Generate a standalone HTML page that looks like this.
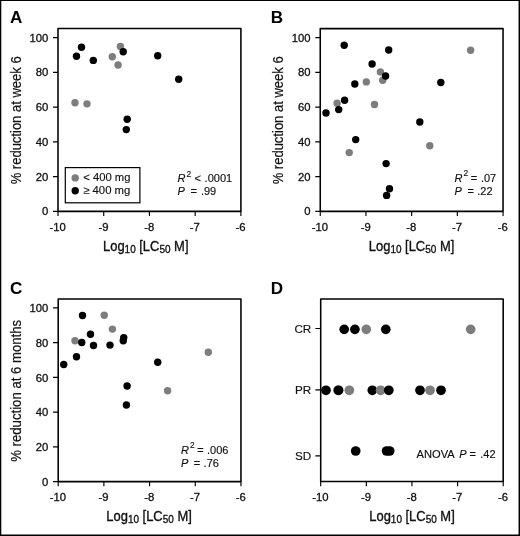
<!DOCTYPE html>
<html><head><meta charset="utf-8"><title>Figure</title>
<style>
html,body{margin:0;padding:0;background:#fff;}
body{width:520px;height:536px;overflow:hidden;position:relative;font-family:"Liberation Sans",sans-serif;}
svg{position:absolute;left:0;top:0;display:block;will-change:transform;}
text{font-family:"Liberation Sans",sans-serif;fill:#111;}
.t{font-size:11.3px;stroke:#111;stroke-width:0.3px;}
.s{font-size:11px;stroke:#111;stroke-width:0.15px;}
.c{font-size:11.7px;stroke:#111;stroke-width:0.15px;}
.i{font-style:italic;}
.sup{font-size:8.4px;stroke-width:0.15px;}
.sub{font-size:11px;}
.ttl{font-size:14.3px;stroke:#111;stroke-width:0.35px;}
.yt{stroke-width:0.2px;}
.L{font-size:17.1px;font-weight:bold;fill:#000;}
</style></head>
<body>
<svg width="520" height="536" viewBox="0 0 520 536">
<rect x="0" y="0" width="520" height="536" fill="#fff"/>
<rect x="58" y="28.55" width="182.9" height="182.8" fill="none" stroke="#000" stroke-width="1.55" stroke-linejoin="round"/>
<path d="M58 211.35V216.05M103.72 211.35V216.05M149.45 211.35V216.05M195.18 211.35V216.05M240.9 211.35V216.05" stroke="#000" stroke-width="1.15" fill="none"/>
<text x="57.7" y="230.65" text-anchor="middle" class="t">-10</text>
<text x="103.42" y="230.65" text-anchor="middle" class="t">-9</text>
<text x="149.15" y="230.65" text-anchor="middle" class="t">-8</text>
<text x="194.88" y="230.65" text-anchor="middle" class="t">-7</text>
<text x="240.6" y="230.65" text-anchor="middle" class="t">-6</text>
<text x="103" y="250.75" class="ttl" textLength="85.5" lengthAdjust="spacingAndGlyphs">Log<tspan class="sub" dy="2.3">10</tspan><tspan dy="-2.3"> [LC</tspan><tspan class="sub" dy="2.3">50</tspan><tspan dy="-2.3"> M]</tspan></text>
<text x="48.3" y="215.35" text-anchor="end" class="t">0</text>
<text x="48.3" y="180.59" text-anchor="end" class="t">20</text>
<text x="48.3" y="145.83" text-anchor="end" class="t">40</text>
<text x="48.3" y="111.07" text-anchor="end" class="t">60</text>
<text x="48.3" y="76.31" text-anchor="end" class="t">80</text>
<text x="48.3" y="41.55" text-anchor="end" class="t">100</text>
<path d="M58 211.35H53M58 176.59H53M58 141.83H53M58 107.07H53M58 72.31H53M58 37.55H53" stroke="#000" stroke-width="1.15" fill="none"/>
<text transform="translate(20.8 120.35) rotate(-90)" text-anchor="middle" class="ttl yt" textLength="128" lengthAdjust="spacingAndGlyphs">% reduction at week 6</text>
<circle cx="120.4" cy="46.5" r="3.7" fill="#7d7d7d"/>
<circle cx="112.3" cy="56.7" r="3.7" fill="#7d7d7d"/>
<circle cx="118.1" cy="65" r="3.7" fill="#7d7d7d"/>
<circle cx="75" cy="102.7" r="3.7" fill="#7d7d7d"/>
<circle cx="87" cy="103.85" r="3.7" fill="#7d7d7d"/>
<circle cx="81.5" cy="47.3" r="3.7" fill="#000"/>
<circle cx="76.5" cy="56.3" r="3.7" fill="#000"/>
<circle cx="93.3" cy="60.4" r="3.7" fill="#000"/>
<circle cx="123.2" cy="51.7" r="3.7" fill="#000"/>
<circle cx="157.7" cy="55.8" r="3.7" fill="#000"/>
<circle cx="178.7" cy="79.2" r="3.7" fill="#000"/>
<circle cx="127.2" cy="119.3" r="3.7" fill="#000"/>
<circle cx="126.3" cy="129.6" r="3.7" fill="#000"/>
<rect x="65.3" y="167.6" width="74.6" height="35.2" fill="#fff" stroke="#000" stroke-width="1.2"/>
<circle cx="75.2" cy="177.9" r="3.7" fill="#7d7d7d"/><circle cx="75.2" cy="190.8" r="3.7" fill="#000"/>
<text x="83.2" y="181.4" class="s" textLength="47.2" lengthAdjust="spacingAndGlyphs">&lt; 400 mg</text>
<text x="83.2" y="194.3" class="s" textLength="47.2" lengthAdjust="spacingAndGlyphs">&#8805; 400 mg</text>
<text class="s" y="181.9"><tspan x="177.6" class="i">R</tspan><tspan x="186.5" y="176.6" class="sup">2</tspan><tspan x="194.5" y="181.9">&lt;</tspan><tspan x="204.6" y="181.9">.0001</tspan></text>
<text class="s" y="195.4"><tspan x="177.6" class="i">P</tspan><tspan x="190.5">=</tspan><tspan x="200.9">.99</tspan></text>
<rect x="320.25" y="28.6" width="182.8" height="182.75" fill="none" stroke="#000" stroke-width="1.55" stroke-linejoin="round"/>
<path d="M320.25 211.35V216.05M365.95 211.35V216.05M411.65 211.35V216.05M457.35 211.35V216.05M503.05 211.35V216.05" stroke="#000" stroke-width="1.15" fill="none"/>
<text x="319.95" y="230.65" text-anchor="middle" class="t">-10</text>
<text x="365.65" y="230.65" text-anchor="middle" class="t">-9</text>
<text x="411.35" y="230.65" text-anchor="middle" class="t">-8</text>
<text x="457.05" y="230.65" text-anchor="middle" class="t">-7</text>
<text x="502.75" y="230.65" text-anchor="middle" class="t">-6</text>
<text x="368.8" y="250.75" class="ttl" textLength="85.5" lengthAdjust="spacingAndGlyphs">Log<tspan class="sub" dy="2.3">10</tspan><tspan dy="-2.3"> [LC</tspan><tspan class="sub" dy="2.3">50</tspan><tspan dy="-2.3"> M]</tspan></text>
<text x="310.55" y="215.35" text-anchor="end" class="t">0</text>
<text x="310.55" y="180.59" text-anchor="end" class="t">20</text>
<text x="310.55" y="145.83" text-anchor="end" class="t">40</text>
<text x="310.55" y="111.07" text-anchor="end" class="t">60</text>
<text x="310.55" y="76.31" text-anchor="end" class="t">80</text>
<text x="310.55" y="41.55" text-anchor="end" class="t">100</text>
<path d="M320.25 211.35H315.25M320.25 176.59H315.25M320.25 141.83H315.25M320.25 107.07H315.25M320.25 72.31H315.25M320.25 37.55H315.25" stroke="#000" stroke-width="1.15" fill="none"/>
<text transform="translate(283.05 120.35) rotate(-90)" text-anchor="middle" class="ttl yt" textLength="128" lengthAdjust="spacingAndGlyphs">% reduction at week 6</text>
<circle cx="337.1" cy="103.3" r="3.7" fill="#7d7d7d"/>
<circle cx="380.4" cy="71.9" r="3.7" fill="#7d7d7d"/>
<circle cx="382.7" cy="80.2" r="3.7" fill="#7d7d7d"/>
<circle cx="366.3" cy="81.9" r="3.7" fill="#7d7d7d"/>
<circle cx="374.5" cy="104.45" r="3.7" fill="#7d7d7d"/>
<circle cx="349.2" cy="152.6" r="3.7" fill="#7d7d7d"/>
<circle cx="470.6" cy="50.2" r="3.7" fill="#7d7d7d"/>
<circle cx="429.8" cy="145.7" r="3.7" fill="#7d7d7d"/>
<circle cx="344.2" cy="45.2" r="3.7" fill="#000"/>
<circle cx="388.7" cy="50" r="3.7" fill="#000"/>
<circle cx="372.1" cy="64" r="3.7" fill="#000"/>
<circle cx="385.6" cy="76" r="3.7" fill="#000"/>
<circle cx="354.8" cy="84" r="3.7" fill="#000"/>
<circle cx="344.6" cy="100.2" r="3.7" fill="#000"/>
<circle cx="338.7" cy="109.6" r="3.7" fill="#000"/>
<circle cx="326" cy="113" r="3.7" fill="#000"/>
<circle cx="355.7" cy="139.6" r="3.7" fill="#000"/>
<circle cx="386.1" cy="163.6" r="3.7" fill="#000"/>
<circle cx="389.5" cy="188.7" r="3.7" fill="#000"/>
<circle cx="386.6" cy="195.4" r="3.7" fill="#000"/>
<circle cx="440.8" cy="82.5" r="3.7" fill="#000"/>
<circle cx="419.8" cy="122" r="3.7" fill="#000"/>
<text class="s" y="181.6"><tspan x="454.5" class="i">R</tspan><tspan x="463.5" y="176.3" class="sup">2</tspan><tspan x="470.8" y="181.6">=</tspan><tspan x="480.9" y="181.6">.07</tspan></text>
<text class="s" y="195"><tspan x="454.5" class="i">P</tspan><tspan x="467.5">=</tspan><tspan x="477.3">.22</tspan></text>
<rect x="58.2" y="299" width="182.75" height="182.6" fill="none" stroke="#000" stroke-width="1.55" stroke-linejoin="round"/>
<path d="M58.2 481.6V486.3M103.89 481.6V486.3M149.57 481.6V486.3M195.26 481.6V486.3M240.95 481.6V486.3" stroke="#000" stroke-width="1.15" fill="none"/>
<text x="57.9" y="500.9" text-anchor="middle" class="t">-10</text>
<text x="103.59" y="500.9" text-anchor="middle" class="t">-9</text>
<text x="149.27" y="500.9" text-anchor="middle" class="t">-8</text>
<text x="194.96" y="500.9" text-anchor="middle" class="t">-7</text>
<text x="240.65" y="500.9" text-anchor="middle" class="t">-6</text>
<text x="106.3" y="521" class="ttl" textLength="85.5" lengthAdjust="spacingAndGlyphs">Log<tspan class="sub" dy="2.3">10</tspan><tspan dy="-2.3"> [LC</tspan><tspan class="sub" dy="2.3">50</tspan><tspan dy="-2.3"> M]</tspan></text>
<text x="48.3" y="485.8" text-anchor="end" class="t">0</text>
<text x="48.3" y="451.04" text-anchor="end" class="t">20</text>
<text x="48.3" y="416.28" text-anchor="end" class="t">40</text>
<text x="48.3" y="381.52" text-anchor="end" class="t">60</text>
<text x="48.3" y="346.76" text-anchor="end" class="t">80</text>
<text x="48.3" y="312" text-anchor="end" class="t">100</text>
<path d="M58.2 481.6H53M58.2 446.84H53M58.2 412.08H53M58.2 377.32H53M58.2 342.56H53M58.2 307.8H53" stroke="#000" stroke-width="1.15" fill="none"/>
<text transform="translate(20.8 390.8) rotate(-90)" text-anchor="middle" class="ttl yt" textLength="142" lengthAdjust="spacingAndGlyphs">% reduction at 6 months</text>
<circle cx="104.25" cy="315.25" r="3.7" fill="#7d7d7d"/>
<circle cx="112.4" cy="329.1" r="3.7" fill="#7d7d7d"/>
<circle cx="75" cy="340.75" r="3.7" fill="#7d7d7d"/>
<circle cx="208.3" cy="352.2" r="3.7" fill="#7d7d7d"/>
<circle cx="167.6" cy="390.7" r="3.7" fill="#7d7d7d"/>
<circle cx="82.5" cy="315.5" r="3.7" fill="#000"/>
<circle cx="90.5" cy="334.25" r="3.7" fill="#000"/>
<circle cx="81.75" cy="342.5" r="3.7" fill="#000"/>
<circle cx="93.5" cy="345.5" r="3.7" fill="#000"/>
<circle cx="110" cy="345.1" r="3.7" fill="#000"/>
<circle cx="123.75" cy="337.6" r="3.7" fill="#000"/>
<circle cx="123.25" cy="340.7" r="3.7" fill="#000"/>
<circle cx="76.5" cy="356.75" r="3.7" fill="#000"/>
<circle cx="63.75" cy="364.5" r="3.7" fill="#000"/>
<circle cx="127.1" cy="386" r="3.7" fill="#000"/>
<circle cx="157.7" cy="362.2" r="3.7" fill="#000"/>
<circle cx="126.4" cy="405" r="3.7" fill="#000"/>
<text class="s" y="453.6"><tspan x="180.95" class="i">R</tspan><tspan x="189.9" y="448.3" class="sup">2</tspan><tspan x="197.2" y="453.6">=</tspan><tspan x="207" y="453.6">.006</tspan></text>
<text class="s" y="467.1"><tspan x="180.95" class="i">P</tspan><tspan x="193.8">=</tspan><tspan x="203.6">.76</tspan></text>
<rect x="320.7" y="298.9" width="182.5" height="182.65" fill="none" stroke="#000" stroke-width="1.55" stroke-linejoin="round"/>
<path d="M320.7 481.55V486.25M366.32 481.55V486.25M411.95 481.55V486.25M457.57 481.55V486.25M503.2 481.55V486.25" stroke="#000" stroke-width="1.15" fill="none"/>
<text x="320.4" y="500.85" text-anchor="middle" class="t">-10</text>
<text x="366.02" y="500.85" text-anchor="middle" class="t">-9</text>
<text x="411.65" y="500.85" text-anchor="middle" class="t">-8</text>
<text x="457.27" y="500.85" text-anchor="middle" class="t">-7</text>
<text x="502.9" y="500.85" text-anchor="middle" class="t">-6</text>
<text x="369.25" y="520.95" class="ttl" textLength="85.5" lengthAdjust="spacingAndGlyphs">Log<tspan class="sub" dy="2.3">10</tspan><tspan dy="-2.3"> [LC</tspan><tspan class="sub" dy="2.3">50</tspan><tspan dy="-2.3"> M]</tspan></text>
<text x="311.3" y="332.6" text-anchor="end" class="c">CR</text>
<text x="311.3" y="394" text-anchor="end" class="c">PR</text>
<text x="311.3" y="459.95" text-anchor="end" class="c">SD</text>
<path d="M320.7 328.5H315.35M320.7 389.9H315.35M320.7 455.85H315.35" stroke="#000" stroke-width="1.15" fill="none"/>
<circle cx="344.2" cy="329.35" r="4.85" fill="#000"/>
<circle cx="354.9" cy="329.35" r="4.85" fill="#000"/>
<circle cx="366.3" cy="329.35" r="4.85" fill="#7d7d7d"/>
<circle cx="385.8" cy="329.35" r="4.85" fill="#000"/>
<circle cx="470.7" cy="329.35" r="4.85" fill="#7d7d7d"/>
<circle cx="326" cy="390.3" r="4.85" fill="#000"/>
<circle cx="337.9" cy="390.3" r="4.85" fill="#7d7d7d"/>
<circle cx="338.6" cy="390.3" r="4.85" fill="#000"/>
<circle cx="349.35" cy="390.3" r="4.85" fill="#7d7d7d"/>
<circle cx="372.3" cy="390.3" r="4.85" fill="#000"/>
<circle cx="380.6" cy="390.3" r="4.85" fill="#7d7d7d"/>
<circle cx="388.8" cy="390.3" r="4.85" fill="#000"/>
<circle cx="420" cy="390.3" r="4.85" fill="#000"/>
<circle cx="430" cy="390.3" r="4.85" fill="#7d7d7d"/>
<circle cx="441" cy="390.3" r="4.85" fill="#000"/>
<circle cx="355.7" cy="451" r="4.85" fill="#000"/>
<circle cx="386.6" cy="451" r="4.85" fill="#000"/>
<circle cx="389.7" cy="451" r="4.85" fill="#000"/>
<text y="457.7" class="s"><tspan x="416.5" textLength="38.2" lengthAdjust="spacingAndGlyphs">ANOVA</tspan><tspan x="459.3" class="i">P</tspan><tspan x="469.6">=</tspan><tspan x="480.3">.42</tspan></text>
<text x="10" y="22.7" class="L">A</text>
<text x="270.8" y="22.7" class="L">B</text>
<text x="10.1" y="293.5" class="L">C</text>
<text x="270.8" y="293.5" class="L">D</text>
<path d="M0 0H520V536H0Z M1.3 1.1V534.55H518.55V1.1Z" fill="#000" fill-rule="evenodd"/>
</svg>
</body></html>
